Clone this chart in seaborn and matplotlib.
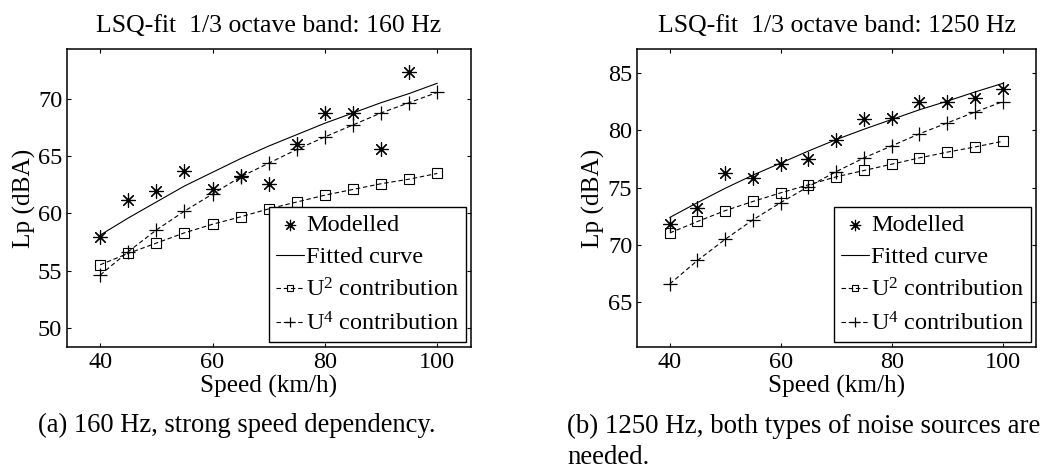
import numpy as np
import pandas as pd
import matplotlib
matplotlib.use("Agg")
import matplotlib.pyplot as plt
import seaborn as sns

# ---------------- data ----------------
speed = [40, 45, 50, 55, 60, 65, 70, 75, 80, 85, 90, 95, 100]
speed_mod_a = [40, 45, 50, 55, 60, 65, 70, 75, 80, 85, 90, 95]

# (a) 160 Hz
modelled_a = [57.9, 61.2, 62.0, 63.7, 62.1, 63.3, 62.6, 66.1, 68.8, 68.8, 65.6, 72.4]
fitted_a = [58.1, 59.6, 61.0, 62.4, 63.6, 64.8, 65.9, 66.9, 67.9, 68.8, 69.7, 70.5, 71.4]
u2_a = [55.5, 56.5, 57.4, 58.3, 59.05, 59.7, 60.4, 61.0, 61.6, 62.1, 62.6, 63.0, 63.5]
u4_a = [54.6, 56.65, 58.55, 60.2, 61.7, 63.2, 64.4, 65.6, 66.7, 67.75, 68.8, 69.7, 70.6]

# (b) 1250 Hz
modelled_b = [71.8, 73.2, 76.3, 75.85, 77.05, 77.5, 79.2, 81.0, 81.1, 82.5, 82.5, 82.8, 83.6]
fitted_b = [72.4, 73.7, 74.95, 76.1, 77.15, 78.2, 79.2, 80.1, 80.95, 81.8, 82.55, 83.35, 84.1]
u2_b = [71.05, 72.05, 73.0, 73.8, 74.55, 75.25, 75.95, 76.5, 77.05, 77.6, 78.1, 78.55, 79.05]
u4_b = [66.6, 68.65, 70.5, 72.2, 73.7, 75.1, 76.4, 77.6, 78.65, 79.7, 80.65, 81.6, 82.5]

titles = ["LSQ-fit  1/3 octave band: 160 Hz", "LSQ-fit  1/3 octave band: 1250 Hz"]
yticks_a = [50, 55, 60, 65, 70]
yticks_b = [65, 70, 75, 80, 85]
xticks = [40, 60, 80, 100]
legend_labels = ["Modelled", "Fitted curve", "U$^2$ contribution", "U$^4$ contribution"]
caption_a = "(a) 160 Hz, strong speed dependency."
caption_b1 = "(b) 1250 Hz, both types of noise sources are"
caption_b2 = "needed."

# ---------------- style ----------------
sns.set_style("ticks")
plt.rcParams["font.family"] = ["Liberation Serif", "DejaVu Serif"]
plt.rcParams["mathtext.fontset"] = "custom"
plt.rcParams["mathtext.rm"] = "Liberation Serif"
plt.rcParams["mathtext.it"] = "Liberation Serif:italic"
plt.rcParams["mathtext.default"] = "regular"
plt.rcParams["text.color"] = "black"
plt.rcParams["axes.labelcolor"] = "black"
plt.rcParams["xtick.color"] = "black"
plt.rcParams["ytick.color"] = "black"

FS = 17.5
fig = plt.figure(figsize=(10.48, 4.68), dpi=100)
W, H = 1048, 468


def make_axes(x0, x1, y0, y1):
    return fig.add_axes([x0 / W, 1 - y1 / H, (x1 - x0) / W, (y1 - y0) / H])


ax_a = make_axes(67, 471, 49, 347)
ax_b = make_axes(637, 1036, 49, 347)

dash = (0, (4, 2.5))
star = (8, 2, 0)


def draw(ax, sp_mod, mod, fit, u2, u4):
    df_mod = pd.DataFrame({"speed": sp_mod, "Lp": mod})
    df = pd.DataFrame({"speed": speed, "fit": fit, "u2": u2, "u4": u4})
    sns.scatterplot(data=df_mod, x="speed", y="Lp", ax=ax, marker=star, color="k",
                    s=100, linewidth=0.85, label=legend_labels[0], zorder=5)
    sns.lineplot(data=df, x="speed", y="fit", ax=ax, color="k", linewidth=0.8,
                 label=legend_labels[1])
    sns.lineplot(data=df, x="speed", y="u2", ax=ax, color="k", linewidth=0.8,
                 linestyle=dash, marker="s", markersize=6.5, markerfacecolor="none",
                 markeredgecolor="k", markeredgewidth=0.8, label=legend_labels[2])
    sns.lineplot(data=df, x="speed", y="u4", ax=ax, color="k", linewidth=0.8,
                 linestyle=dash, marker="+", markersize=10, markeredgecolor="k",
                 markeredgewidth=0.9, label=legend_labels[3])


draw(ax_a, speed_mod_a, modelled_a, fitted_a, u2_a, u4_a)
draw(ax_b, speed, modelled_b, fitted_b, u2_b, u4_b)

for ax, title, yt, ylim, ylx in [(ax_a, titles[0], yticks_a, (48.3, 74.4), -0.076),
                                 (ax_b, titles[1], yticks_b, (61.1, 87.1), -0.080)]:
    ax.set_xlim(34.1, 106.0)
    ax.set_ylim(*ylim)
    ax.set_xticks(xticks)
    ax.set_yticks(yt)
    ax.tick_params(direction="in", top=True, right=True, length=3, width=0.8,
                   labelsize=FS, pad=3.5)
    for s in ax.spines.values():
        s.set_visible(True)
        s.set_linewidth(1.1)
        s.set_color("k")
    ax.set_title(title, fontsize=18.5, pad=12)
    ax.set_xlabel("Speed (km/h)", fontsize=18.2)
    ax.set_ylabel("Lp (dBA)", fontsize=18.2)
    ax.xaxis.set_label_coords(0.5, -0.095)
    ax.yaxis.set_label_coords(ylx, 0.5)
    leg = ax.legend(loc="lower right", bbox_to_anchor=(1 - 5 / 400, 5 / 298),
                    borderaxespad=0, fontsize=FS, frameon=True, fancybox=False,
                    edgecolor="k", framealpha=1, handlelength=1.15,
                    handletextpad=0.1, borderpad=0.28, labelspacing=0.42,
                    markerscale=0.75)
    leg.get_frame().set_linewidth(1.0)

fig.text(38 / W, 1 - 432 / H, caption_a, fontsize=19.1, va="baseline", ha="left")
fig.text(567 / W, 1 - 433 / H, caption_b1, fontsize=19.4, va="baseline", ha="left")
fig.text(567 / W, 1 - 464 / H, caption_b2, fontsize=19.4, va="baseline", ha="left")

fig.savefig("out.png", dpi=100)
